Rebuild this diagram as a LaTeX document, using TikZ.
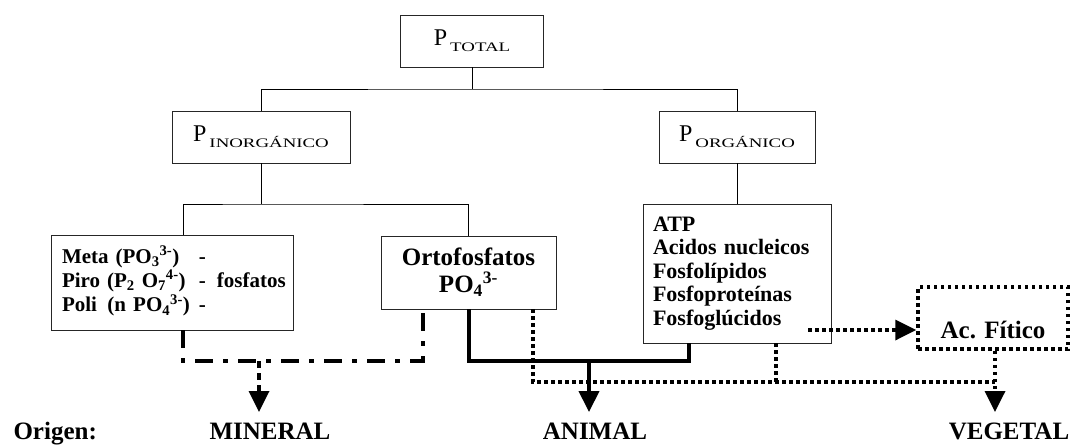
\documentclass[tikz,border=0pt]{standalone}
\usepackage{fontspec}
\setmainfont{Liberation Serif}
\usepackage{graphicx}
\usetikzlibrary{arrows.meta}

% P with its low, wide subscript
\newcommand{\psub}[1]{{\fontsize{24}{24}\selectfont P}\hspace{3pt}\raisebox{-6pt}{\scalebox{1.45}[1]{\fontsize{13}{13}\selectfont #1}}}

\begin{document}
\begin{tikzpicture}[x=1pt, y=-1pt,
    box/.style={draw=black!85, line width=0.8pt, inner sep=0pt},
    tree/.style={draw=black, line width=0.8pt},
    mixline/.style={line width=3.5pt, dash pattern=on 18pt off 10pt on 5pt off 10pt},
    solidline/.style={line width=4pt},
    dotline/.style={line width=3.5pt, dash pattern=on 3.5pt off 3.5pt},
    tip/.style={-{Triangle[width=20pt,length=21pt]}},
    origin/.style={font=\bfseries\fontsize{25}{25}\selectfont, anchor=base}
]
    \useasboundingbox (0,0) rectangle (1071,445);

    % Boxes
    \node[box, minimum width=143pt, minimum height=52pt] (total) at (472,41) {\psub{TOTAL}};
    \node[box, minimum width=178pt, minimum height=52pt] (inorg) at (261,137) {\psub{INORGÁNICO}};
    \node[box, minimum width=156pt, minimum height=52pt] (org) at (737,137) {\psub{ORGÁNICO}};

    \node[box, minimum height=95pt, text width=220pt, inner xsep=11pt, align=left,
        font=\bfseries\fontsize{21}{24}\selectfont] (sales) at (172,282.5)
        {\begin{tabular}{@{}l@{\hspace{9pt}}l@{\hspace{11pt}}l@{}}
            Meta (PO\textsubscript{3}\textsuperscript{3-}) & - & \\
            Piro (P\textsubscript{2} O\textsubscript{7}\textsuperscript{4-}) & - & fosfatos \\
            Poli\, (n PO\textsubscript{4}\textsuperscript{3-}) & - &
        \end{tabular}};
    \node[box, minimum width=175pt, minimum height=73pt, align=center,
        font=\bfseries\fontsize{25}{27}\selectfont] (orto) at (468.5,272.5)
        {Ortofosfatos\\PO\textsubscript{4}\textsuperscript{3-}};
    \node[box, minimum height=139pt, text width=168pt, inner xsep=10pt, align=left,
        font=\bfseries\fontsize{22}{23.5}\selectfont] (comp) at (737,273.5)
        {ATP\\Acidos nucleicos\\Fosfolípidos\\Fosfoproteínas\\Fosfoglúcidos};
    \node[draw, dotline, minimum width=150pt, minimum height=62pt, inner sep=0pt,
        text height=40pt, text depth=0pt, font=\bfseries\fontsize{25}{25}\selectfont] (fitico) at (993,318) {Ac. Fítico};

    % Tree
    \coordinate (bus1) at (472,89);
    \draw[tree] (total.south) -- (bus1);
    \draw[tree] (inorg.north) |- (bus1) -| (org.north);
    \coordinate (bus2) at (261,204);
    \draw[tree] (inorg.south) -- (bus2);
    \draw[tree] ([xshift=11pt]sales.north) |- (bus2) -| (orto.north);
    \draw[tree] (org.south) -- (comp.north);

    % Mineral
    \coordinate (tips) at (0,412);
    \coordinate (minbus) at (259,361);
    \draw[mixline] ([xshift=11pt]sales.south) |- (minbus) -| ([xshift=-45.5pt]orto.south);
    \draw[line width=3.5pt, dash pattern=on 7pt off 5pt, tip] (minbus) -- (minbus |- tips);

    % Animal
    \coordinate (anibus) at (589,361);
    \draw[solidline] (orto.south) |- (anibus) -| ([xshift=-48pt]comp.south);
    \draw[solidline, tip] (anibus) -- (anibus |- tips);

    % Vegetal
    \coordinate (vegbus) at (995,382);
    \draw[dotline] ([xshift=64.5pt]orto.south) |- (vegbus);
    \draw[dotline] ([xshift=39pt]comp.south) -- ([xshift=39pt]comp.south |- vegbus);
    \draw[dotline, tip] ([xshift=2pt]fitico.south) -- ([xshift=2pt]fitico.south |- tips);
    \coordinate (fosfo) at (808,330);
    \draw[dotline, tip] (fosfo) -- (fosfo -| fitico.west);

    % Origin labels
    \node[origin, anchor=base west] (origen) at (10,439) {Origen:};
    \node[origin] (mineral) at (270,439) {MINERAL};
    \node[origin] (animal) at (595,439) {ANIMAL};
    \node[origin] (vegetal) at (1009,439) {VEGETAL};

\end{tikzpicture}
\end{document}
